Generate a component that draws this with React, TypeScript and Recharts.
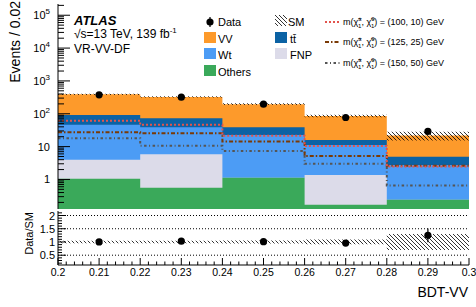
import React from "react";
import { Area, ComposedChart, ErrorBar, Line, ReferenceLine, Scatter, XAxis, YAxis } from "recharts";

// bins of BDT-VV, width 0.02
const binEdges = [0.2, 0.22, 0.24, 0.26, 0.28, 0.3];
const binCenters = [0.21, 0.23, 0.25, 0.27, 0.29];

// stacked backgrounds, bottom to top
const others = [1.05, 0.56, 1.13, 0.17, 0.24];
const fnp = [2.95, 5.3, 0, 1.2, 0];
const wt = [42, 33, 21.6, 9.9, 2.5];
const ttbar = [46, 34, 16.3, 4.7, 2.2];
const vv = [298, 254, 157, 70, 17];

const observed = [377, 320, 196, 77, 29];
const smRelUnc = [0.05, 0.05, 0.06, 0.09, 0.3];

const sig100_10 = [61, 46, 21.6, 10.5, 2.5];
const sig125_25 = [27.5, 25.6, 14.2, 5.2, 2.6];
const sig150_50 = [18, 10.7, 7.4, 3.0, 0.65];

const ratio = [1.0, 1.03, 1.01, 0.96, 1.25];
const ratioErr = [0.05, 0.06, 0.07, 0.11, 0.26];

const xMajorLabels = ["0.2", "0.21", "0.22", "0.23", "0.24", "0.25", "0.26", "0.27", "0.28", "0.29", "0.3"];
const ratioLabels = ["0.5", "1", "1.5", "2"];

const Y_MIN = 0.126;
const Y_MAX = 2.2e5;
const R_MIN = 0.13;
const R_MAX = 2.17;

const FONT = "'Liberation Sans', Arial, Helvetica, sans-serif";
const C = {
  vv: "#fd9a2b",
  tt: "#0b62a4",
  wt: "#4c9cf5",
  fnp: "#dcdbe9",
  others: "#3aa95a",
  s1: "#e2544d",
  s2: "#7a3a06",
  s3: "#555555",
};

const rows = binEdges.map((x, i) => {
  const b = Math.min(i, binCenters.length - 1);
  const cOthers = others[b];
  const cFnp = cOthers + fnp[b];
  const cWt = cFnp + wt[b];
  const cTt = cWt + ttbar[b];
  const total = cTt + vv[b];
  return {
    x,
    cOthers,
    cFnp,
    cWt,
    cTt,
    total,
    band: [total * (1 - smRelUnc[b]), total * (1 + smRelUnc[b])],
    s1: sig100_10[b],
    s2: sig125_25[b],
    s3: sig150_50[b],
  };
});

const ratioRows = binEdges.map((x, i) => {
  const b = Math.min(i, binCenters.length - 1);
  return { x, band: [1 - smRelUnc[b], 1 + smRelUnc[b]] };
});

const dataPoints = binCenters.map((x, i) => ({ x, y: observed[i] }));
const ratioPoints = binCenters.map((x, i) => ({ x, r: ratio[i], err: ratioErr[i] }));

// tick positions (minor + major)
const xTicks: number[] = [];
for (let i = 0; i <= 50; i++) xTicks.push(Math.round((0.2 + i * 0.002) * 1000) / 1000);
const isMajorX = (v: number) => Math.abs(v * 100 - Math.round(v * 100)) < 1e-6;

const logTicks: number[] = [];
for (let e = -1; e <= 5; e++) {
  for (let m = 1; m <= 9; m++) {
    const v = m * Math.pow(10, e);
    if (v >= Y_MIN && v <= Y_MAX) logTicks.push(v);
  }
}
const isDecade = (v: number) => Math.abs(Math.log10(v) - Math.round(Math.log10(v))) < 1e-9;

const ratioTicks: number[] = [];
for (let i = 2; i <= 21; i++) ratioTicks.push(i / 10);
const isMajorR = (v: number) => Math.abs(v * 2 - Math.round(v * 2)) < 1e-6;

function BottomTicks(props: any) {
  const { x, y, payload } = props;
  return <line x1={x} x2={x} y1={y} y2={y - (isMajorX(payload.value) ? 5 : 2.5)} stroke="#000" />;
}

function TopTicks(props: any) {
  const { x, y, payload } = props;
  return <line x1={x} x2={x} y1={y} y2={y + (isMajorX(payload.value) ? 5 : 2.5)} stroke="#000" />;
}

function LogLeftTick(props: any) {
  const { x, y, payload } = props;
  const v = payload.value;
  if (!isDecade(v)) return <line x1={x} x2={x + 6} y1={y} y2={y} stroke="#000" />;
  const e = Math.round(Math.log10(v));
  return (
    <g>
      <line x1={x} x2={x + 12} y1={y} y2={y} stroke="#000" />
      <text x={x - 8} y={y + 4} textAnchor="end" fontSize={11} fontFamily={FONT} fill="#000">
        {e === 0 ? "1" : "10"}
        {e >= 2 ? (
          <tspan dy={-5} fontSize={8}>
            {e}
          </tspan>
        ) : null}
      </text>
    </g>
  );
}

function LogRightTick(props: any) {
  const { x, y, payload } = props;
  const len = isDecade(payload.value) ? 12 : 6;
  return <line x1={x} x2={x - len} y1={y} y2={y} stroke="#000" />;
}

function RatioLeftTick(props: any) {
  const { x, y, payload } = props;
  const v = payload.value;
  if (!isMajorR(v)) return <line x1={x} x2={x + 4} y1={y} y2={y} stroke="#000" />;
  const label = ratioLabels.find((s) => Math.abs(parseFloat(s) - v) < 1e-6);
  return (
    <g>
      <line x1={x} x2={x + 8} y1={y} y2={y} stroke="#000" />
      <text x={x - 3} y={y + 4} textAnchor="end" fontSize={11} fontFamily={FONT} fill="#000">
        {label}
      </text>
    </g>
  );
}

function RatioRightTick(props: any) {
  const { x, y, payload } = props;
  return <line x1={x} x2={x - (isMajorR(payload.value) ? 8 : 4)} y1={y} y2={y} stroke="#000" />;
}

function RatioBottomTick(props: any) {
  const { x, y, payload } = props;
  const v = payload.value;
  if (!isMajorX(v)) return <line x1={x} x2={x} y1={y} y2={y - 3.5} stroke="#000" />;
  const label = xMajorLabels.find((s) => Math.abs(parseFloat(s) - v) < 1e-6);
  return (
    <g>
      <line x1={x} x2={x} y1={y} y2={y - 7} stroke="#000" />
      <text x={x} y={y + 10.5} textAnchor="middle" fontSize={10.5} fontFamily={FONT} fill="#000">
        {label}
      </text>
    </g>
  );
}

function RatioTopTick(props: any) {
  const { x, y, payload } = props;
  return <line x1={x} x2={x} y1={y} y2={y + (isMajorX(payload.value) ? 7 : 3.5)} stroke="#000" />;
}

const dot = (p: any) => <circle cx={p.cx} cy={p.cy} r={3.6} fill="#000" />;

function Chi({ sup }: { sup: string }) {
  return (
    <>
      <tspan>χ̃</tspan>
      <tspan dy={-4} fontSize={6}>
        {sup}
      </tspan>
      <tspan dx={-3.5} dy={7} fontSize={6}>
        1
      </tspan>
    </>
  );
}

function SignalEntry({ y, label, color, dash }: { y: number; label: string; color: string; dash: string }) {
  return (
    <g>
      <line x1={325} x2={340} y1={y - 3} y2={y - 3} stroke={color} strokeWidth={2} strokeDasharray={dash} />
      <text x={343} y={y} fontSize={9} fontFamily={FONT} fill="#000">
        m(
        <Chi sup="±" />
        <tspan dy={-3}>, </tspan>
        <Chi sup="0" />
        <tspan dy={-3}>) = {label} GeV</tspan>
      </text>
    </g>
  );
}

export default function App() {
  return (
    <div style={{ position: "absolute", left: 0, top: 0, width: 476, height: 307, background: "#fff" }}>
      {/* hatch pattern shared by both panels and the legend */}
      <svg width={0} height={0} style={{ position: "absolute" }}>
        <defs>
          <pattern id="hatch" patternUnits="userSpaceOnUse" width={4} height={4}>
            <path d="M-1,-1 L5,5 M-1,3 L1,5 M3,-1 L5,1" stroke="#000" strokeWidth={0.8} />
          </pattern>
        </defs>
      </svg>

      <div style={{ position: "absolute", left: 0, top: 0, width: 476, height: 210 }}>
        <ComposedChart width={476} height={210} data={rows} margin={{ top: 4, right: 7, bottom: 1, left: 0 }}>
          <XAxis
            dataKey="x"
            type="number"
            domain={[0.2, 0.3]}
            allowDataOverflow
            ticks={xTicks}
            interval={0}
            height={0}
            tickSize={0}
            tickMargin={0}
            tickLine={false}
            tick={<BottomTicks />}
            axisLine={{ stroke: "#000" }}
          />
          <XAxis
            xAxisId="t"
            orientation="top"
            dataKey="x"
            type="number"
            domain={[0.2, 0.3]}
            allowDataOverflow
            ticks={xTicks}
            interval={0}
            height={0}
            tickSize={0}
            tickMargin={0}
            tickLine={false}
            tick={<TopTicks />}
            axisLine={{ stroke: "#000" }}
          />
          <YAxis
            type="number"
            scale="log"
            domain={[Y_MIN, Y_MAX]}
            allowDataOverflow
            ticks={logTicks}
            interval={0}
            width={58}
            tickSize={0}
            tickMargin={0}
            tickLine={false}
            tick={<LogLeftTick />}
            axisLine={{ stroke: "#000" }}
          />
          <YAxis
            yAxisId="r"
            orientation="right"
            type="number"
            scale="log"
            domain={[Y_MIN, Y_MAX]}
            allowDataOverflow
            ticks={logTicks}
            interval={0}
            width={0}
            tickSize={0}
            tickMargin={0}
            tickLine={false}
            tick={<LogRightTick />}
            axisLine={{ stroke: "#000" }}
          />
          <Area type="stepAfter" dataKey="total" fill={C.vv} fillOpacity={1} stroke="none" baseValue="dataMin" isAnimationActive={false} />
          <Area type="stepAfter" dataKey="cTt" fill={C.tt} fillOpacity={1} stroke="none" baseValue="dataMin" isAnimationActive={false} />
          <Area type="stepAfter" dataKey="cWt" fill={C.wt} fillOpacity={1} stroke="none" baseValue="dataMin" isAnimationActive={false} />
          <Area type="stepAfter" dataKey="cFnp" fill={C.fnp} fillOpacity={1} stroke="none" baseValue="dataMin" isAnimationActive={false} />
          <Area type="stepAfter" dataKey="cOthers" fill={C.others} fillOpacity={1} stroke="none" baseValue="dataMin" isAnimationActive={false} />
          <Area type="stepAfter" dataKey="band" fill="url(#hatch)" fillOpacity={1} stroke="none" isAnimationActive={false} />
          <Line type="stepAfter" dataKey="s3" stroke={C.s3} strokeWidth={2} strokeDasharray="2.5 2.5 1 2.5" dot={false} activeDot={false} isAnimationActive={false} />
          <Line type="stepAfter" dataKey="s2" stroke={C.s2} strokeWidth={2} strokeDasharray="4 2 1.5 2" dot={false} activeDot={false} isAnimationActive={false} />
          <Line type="stepAfter" dataKey="s1" stroke={C.s1} strokeWidth={2} strokeDasharray="2 2" dot={false} activeDot={false} isAnimationActive={false} />
          <Scatter data={dataPoints} dataKey="y" shape={dot} isAnimationActive={false} />
        </ComposedChart>
      </div>

      <div style={{ position: "absolute", left: 0, top: 205, width: 476, height: 102 }}>
        <ComposedChart width={476} height={102} data={ratioRows} margin={{ top: 6, right: 7, bottom: 0, left: 0 }}>
          <XAxis
            dataKey="x"
            type="number"
            domain={[0.2, 0.3]}
            allowDataOverflow
            ticks={xTicks}
            interval={0}
            height={42}
            tickSize={0}
            tickMargin={0}
            tickLine={false}
            tick={<RatioBottomTick />}
            axisLine={{ stroke: "#000" }}
          />
          <XAxis
            xAxisId="t"
            orientation="top"
            dataKey="x"
            type="number"
            domain={[0.2, 0.3]}
            allowDataOverflow
            ticks={xTicks}
            interval={0}
            height={0}
            tickSize={0}
            tickMargin={0}
            tickLine={false}
            tick={<RatioTopTick />}
            axisLine={{ stroke: "#000" }}
          />
          <YAxis
            type="number"
            domain={[R_MIN, R_MAX]}
            allowDataOverflow
            ticks={ratioTicks}
            interval={0}
            width={58}
            tickSize={0}
            tickMargin={0}
            tickLine={false}
            tick={<RatioLeftTick />}
            axisLine={{ stroke: "#000" }}
          />
          <YAxis
            yAxisId="r"
            orientation="right"
            type="number"
            domain={[R_MIN, R_MAX]}
            allowDataOverflow
            ticks={ratioTicks}
            interval={0}
            width={0}
            tickSize={0}
            tickMargin={0}
            tickLine={false}
            tick={<RatioRightTick />}
            axisLine={{ stroke: "#000" }}
          />
          <ReferenceLine y={0.5} stroke="#000" strokeDasharray="1 2" />
          <ReferenceLine y={1.5} stroke="#000" strokeDasharray="1 2" />
          <ReferenceLine y={2} stroke="#000" strokeDasharray="1 2" />
          <Area type="stepAfter" dataKey="band" fill="url(#hatch)" fillOpacity={1} stroke="none" isAnimationActive={false} />
          <Scatter data={ratioPoints} dataKey="r" shape={dot} isAnimationActive={false}>
            <ErrorBar dataKey="err" direction="y" width={0} stroke="#000" strokeWidth={1.2} />
          </Scatter>
        </ComposedChart>
      </div>

      <svg width={476} height={307} style={{ position: "absolute", left: 0, top: 0, pointerEvents: "none" }}>
        <g fontFamily={FONT} fill="#000">
          <text transform="translate(20,1) rotate(-90)" textAnchor="end" fontSize={14}>
            Events / 0.02
          </text>
          <text transform="translate(33,212) rotate(-90)" textAnchor="end" fontSize={11}>
            Data/SM
          </text>
          <text x={468} y={297} textAnchor="end" fontSize={14}>
            BDT-VV
          </text>

          <text x={74} y={25} fontSize={13} fontWeight="bold" fontStyle="italic">
            ATLAS
          </text>
          <text x={74} y={38} fontSize={12}>
            √s=13 TeV, 139 fb
            <tspan dy={-5} fontSize={8}>
              -1
            </tspan>
          </text>
          <text x={74} y={53} fontSize={12}>
            VR-VV-DF
          </text>

          <line x1={210} x2={210} y1={17} y2={27} stroke="#000" strokeWidth={1.2} />
          <circle cx={210} cy={22} r={3.6} fill="#000" />
          <text x={218} y={26} fontSize={11}>Data</text>
          <rect x={204} y={32} width={12} height={11} fill={C.vv} />
          <text x={218} y={43} fontSize={11}>VV</text>
          <rect x={204} y={48} width={12} height={11} fill={C.wt} />
          <text x={218} y={59} fontSize={11}>Wt</text>
          <rect x={204} y={65} width={12} height={11} fill={C.others} />
          <text x={218} y={76} fontSize={11}>Others</text>

          <rect x={275} y={15} width={12} height={11} fill="url(#hatch)" />
          <text x={288} y={26} fontSize={11}>SM</text>
          <rect x={275} y={32} width={12} height={11} fill={C.tt} />
          <text x={290} y={43} fontSize={11}>tt̄</text>
          <rect x={275} y={48} width={12} height={11} fill={C.fnp} />
          <text x={290} y={59} fontSize={11}>FNP</text>
        </g>
        <SignalEntry y={25} label="(100, 10)" color={C.s1} dash="2 2" />
        <SignalEntry y={45} label="(125, 25)" color={C.s2} dash="4 2 1.5 2" />
        <SignalEntry y={66} label="(150, 50)" color={C.s3} dash="2.5 2.5 1 2.5" />
      </svg>
    </div>
  );
}
